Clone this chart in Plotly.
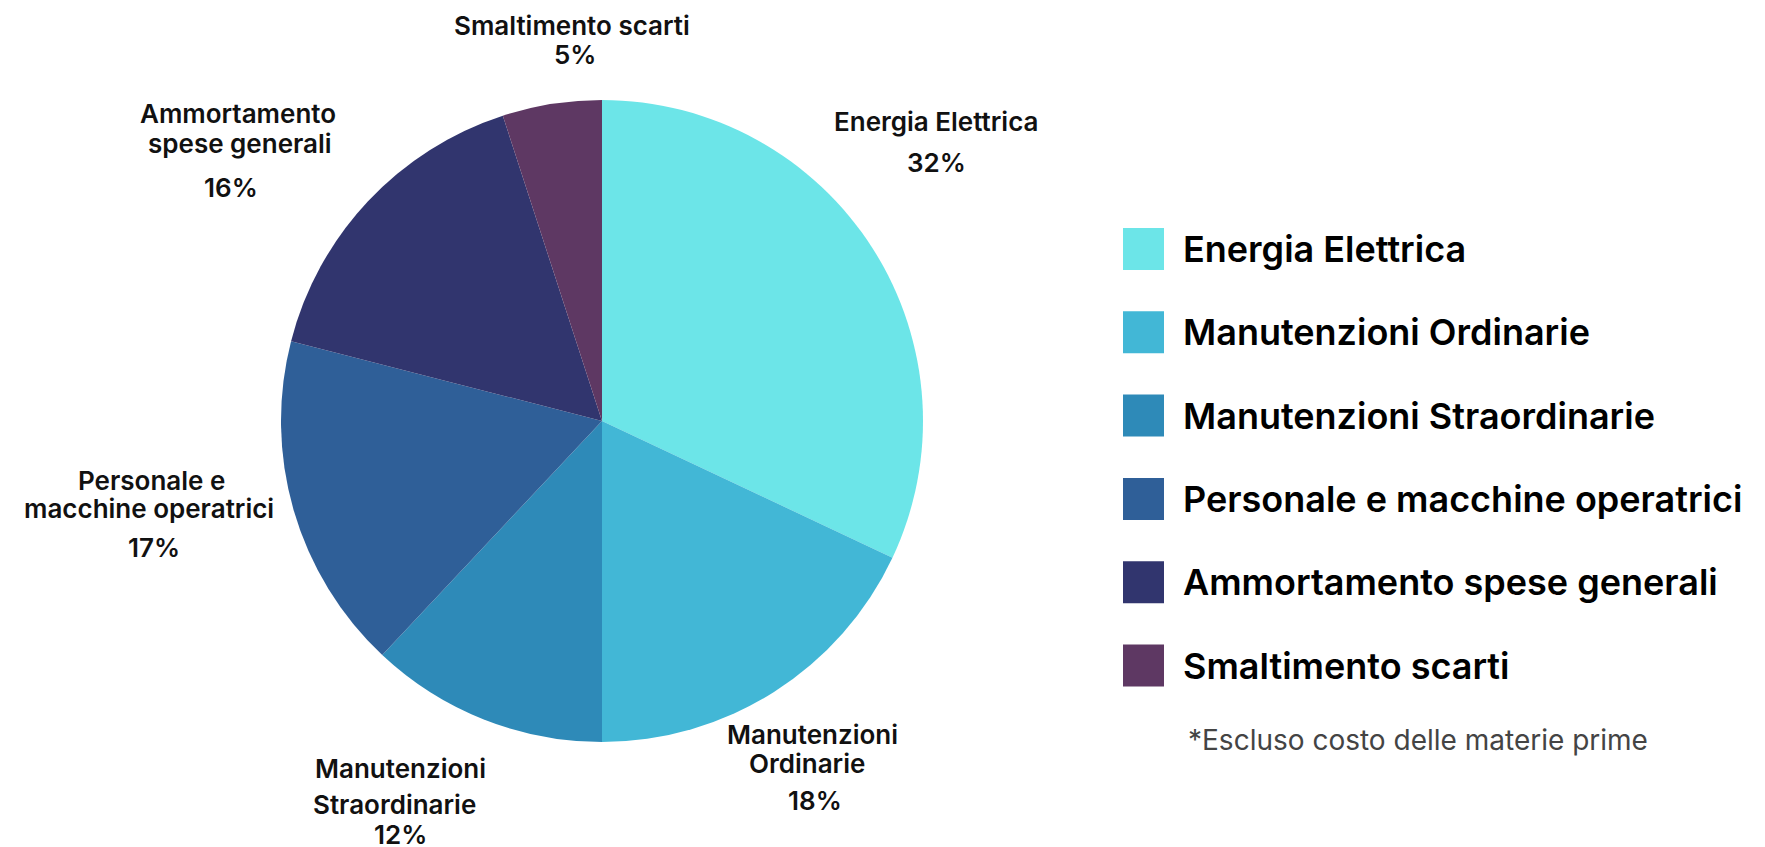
import plotly.graph_objects as go

W, H = 1765, 847

categories = ["Energia Elettrica", "Manutenzioni Ordinarie", "Manutenzioni Straordinarie",
              "Personale e macchine operatrici", "Ammortamento spese generali", "Smaltimento scarti"]
values = [32, 18, 12, 17, 16, 5]
colors = ["#6CE5E8", "#42B7D6", "#2E8AB8", "#2F5F98", "#31356E", "#5E3863"]
slice_label_lines = [["Energia Elettrica"], ["Manutenzioni", "Ordinarie"], ["Manutenzioni", "Straordinarie"],
                     ["Personale e", "macchine operatrici"], ["Ammortamento", "spese generali"],
                     ["Smaltimento scarti"]]
note = "*Escluso costo delle materie prime"

FONT = "Inter"
OFF = 8  # page body margin


def px(x, y):
    """screen pixel -> paper coords"""
    return (x - OFF) / W, 1 - (y - OFF) / H


fig = go.Figure()
dx0, dy0 = px(281, 742)
dx1, dy1 = px(923, 100)
fig.add_trace(go.Pie(
    labels=categories, values=values, sort=False, direction="clockwise", rotation=0,
    marker=dict(colors=colors, line=dict(width=0)),
    textinfo="none", hoverinfo="label+percent", showlegend=False,
    domain=dict(x=[dx0, dx1], y=[dy0, dy1]),
))

# label line positions (screen pixels): list of line centers, then percent center
label_pos = [
    ([(936, 122)], (936, 162)),
    ([(812, 734), (807, 763)], (815, 800)),
    ([(400, 768), (394, 804)], (400, 834)),
    ([(151, 480), (149, 509)], (154, 547)),
    ([(238, 113), (240, 144)], (231, 187)),
    ([(572, 26)], (575, 55)),
]
total = sum(values)
lab_font = dict(family=FONT, size=26, color="#111111", weight=600)
for lines, v, (lpos, ppos) in zip(slice_label_lines, values, label_pos):
    for line, p in zip(lines, lpos):
        x, y = px(*p)
        fig.add_annotation(x=x, y=y, xref="paper", yref="paper", text=line, showarrow=False,
                           font=lab_font, xanchor="center", yanchor="middle")
    x, y = px(*ppos)
    fig.add_annotation(x=x, y=y, xref="paper", yref="paper", text=f"{round(100 * v / total)}%",
                       showarrow=False, font=lab_font, xanchor="center", yanchor="middle")

# legend
for i, (cat, col) in enumerate(zip(categories, colors)):
    cy = 249 + i * 83.3
    x0, y0 = px(1123, cy - 21)
    x1, y1 = px(1164, cy + 21)
    fig.add_shape(type="rect", xref="paper", yref="paper", x0=x0, x1=x1, y0=y1, y1=y0,
                  fillcolor=col, line=dict(width=0))
    tx, ty = px(1181, cy)
    fig.add_annotation(x=tx, y=ty, xref="paper", yref="paper", text=cat, showarrow=False,
                       font=dict(family=FONT, size=36, color="#000000", weight=600),
                       xanchor="left", yanchor="middle")

nx, ny = px(1186, 740)
fig.add_annotation(x=nx, y=ny, xref="paper", yref="paper", text=note, showarrow=False,
                   font=dict(family=FONT, size=28, color="#444444"),
                   xanchor="left", yanchor="middle")

fig.update_layout(width=W, height=H, margin=dict(l=0, r=0, t=0, b=0),
                  paper_bgcolor="white", plot_bgcolor="white")
fig.write_html("out.html")
